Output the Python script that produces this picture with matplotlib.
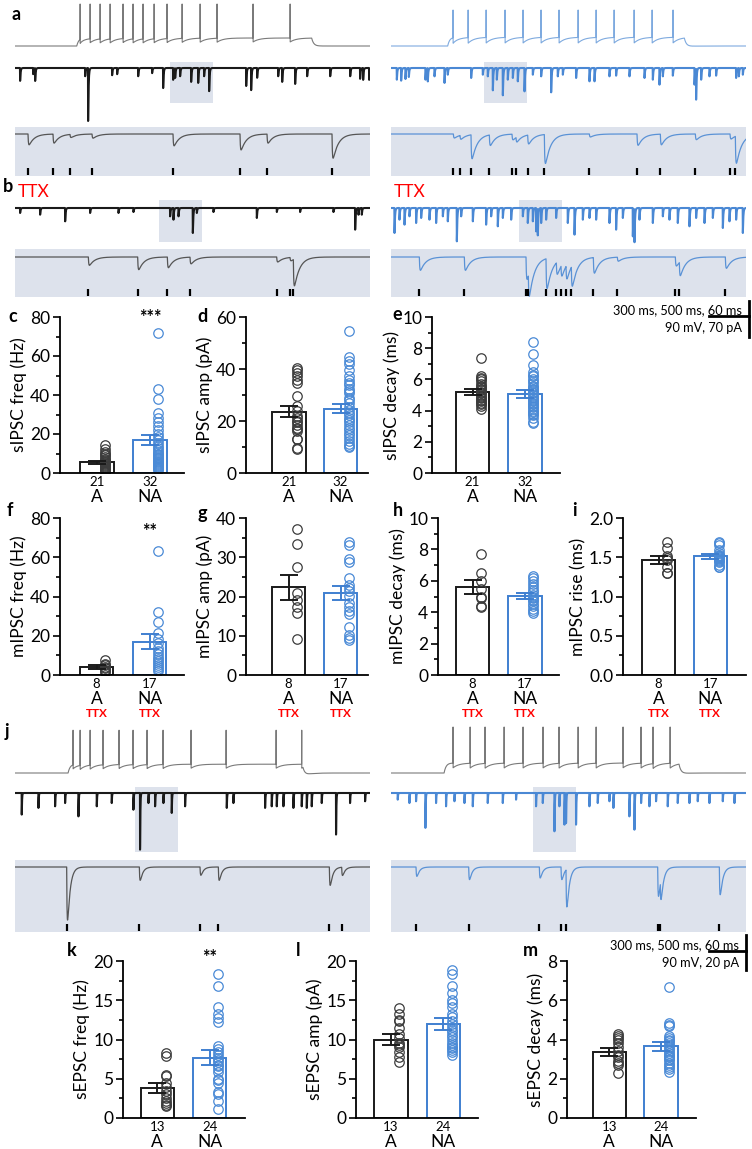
import numpy as np
import matplotlib.pyplot as plt
from matplotlib.lines import Line2D
from matplotlib.patches import Rectangle

W, H = 752, 1149
plt.rcParams['font.family'] = ['Lato', 'DejaVu Sans']

BLACK = '#1a1a1a'
BLUE = '#3f7fd0'
SHADE = '#dde2ec'

# ---------------- bar chart data ----------------
# c  sIPSC frequency (Hz)
sfreq_mean = [5.5, 16.8]
sfreq_sem = [0.8, 2.5]
sfreq_A = [14.2, 12.5, 11, 10, 9, 8, 7.2, 6.5, 6, 5.5, 5, 4.5, 4, 3.5, 3, 2.5, 2, 1.5, 1.2, 0.8, 0.5]
sfreq_NA = [72, 43, 38, 31, 28, 26, 24, 22, 20, 18.5, 17, 15.5, 14, 13, 12, 11, 10, 9.5, 9, 8,
            7.5, 7, 6, 5.5, 5, 4.5, 4, 3.5, 3, 2.5, 2, 1.5]
# d  sIPSC amplitude (pA)
samp_mean = [23.5, 24.8]
samp_sem = [2.1, 1.9]
samp_A = [40.5, 39.5, 38.5, 37.5, 35.8, 34.8, 29.8, 25.7, 24, 22, 21, 20, 19.5, 18.5, 17.5,
          16.9, 16, 13.2, 13, 9.5, 9.3]
samp_NA = [54.5, 44.8, 43.2, 42, 39.7, 37.5, 35.8, 34.5, 33.8, 32.5, 31.5, 30.6, 29, 28, 27,
           25.4, 24.2, 23, 22.2, 21, 20.3, 19.5, 18.3, 17.5, 16.4, 15.5, 14.5, 13.3, 12.5, 11.2,
           10.3, 9.9]
# e  sIPSC decay (ms)
sdec_mean = [5.2, 5.05]
sdec_sem = [0.2, 0.25]
sdec_A = [7.4, 6.2, 6.1, 6.0, 5.9, 5.7, 5.6, 5.5, 5.4, 5.3, 5.2, 5.1, 5.0, 4.9, 4.8, 4.7, 4.6,
          4.5, 4.4, 4.3, 4.1]
sdec_NA = [8.4, 7.6, 6.9, 6.5, 6.3, 6.2, 6.0, 5.9, 5.8, 5.6, 5.5, 5.4, 5.3, 5.2, 5.1, 5.0, 4.9,
           4.8, 4.7, 4.6, 4.5, 4.4, 4.3, 4.2, 4.1, 4.0, 3.9, 3.8, 3.7, 3.5, 3.3, 3.2]
# f  mIPSC frequency (Hz)
mfreq_mean = [4.2, 17.0]
mfreq_sem = [1.0, 3.7]
mfreq_A = [7.8, 5.8, 5, 4.2, 3.5, 2.8, 2, 1.5]
mfreq_NA = [63, 32.3, 27, 21.5, 18.5, 16.5, 14, 12, 10.5, 9, 8, 7, 6, 5, 4, 3, 2]
# g  mIPSC amplitude (pA)
mamp_mean = [22.3, 20.9]
mamp_sem = [3.3, 1.8]
mamp_A = [37.2, 33.3, 27.5, 21, 19, 17.4, 15.7, 9.2]
mamp_NA = [33.8, 33.2, 29.6, 28.8, 24.8, 22.9, 22.2, 21.5, 20.2, 18.3, 17.4, 16.2, 15.5, 12.3,
           10.2, 9.5, 8.9]
# h  mIPSC decay (ms)
mdec_mean = [5.6, 5.02]
mdec_sem = [0.42, 0.18]
mdec_A = [7.7, 6.5, 6.0, 5.5, 5.0, 4.9, 4.4, 4.35]
mdec_NA = [6.3, 6.2, 6.0, 5.8, 5.6, 5.4, 5.3, 5.1, 5.0, 4.9, 4.8, 4.7, 4.5, 4.4, 4.2, 4.05, 3.95]
# i  mIPSC rise (ms)
mrise_mean = [1.47, 1.51]
mrise_sem = [0.05, 0.03]
mrise_A = [1.70, 1.62, 1.52, 1.49, 1.46, 1.38, 1.30, 1.30]
mrise_NA = [1.70, 1.68, 1.66, 1.59, 1.56, 1.53, 1.52, 1.51, 1.50, 1.49, 1.48, 1.47, 1.45, 1.44,
            1.40, 1.38, 1.37]
# k  sEPSC frequency (Hz)
efreq_mean = [3.8, 7.7]
efreq_sem = [0.65, 0.9]
efreq_A = [8.3, 7.9, 5.5, 5.3, 4.4, 4.0, 3.5, 3.1, 2.5, 2.2, 1.9, 1.7, 1.5]
efreq_NA = [18.4, 16.8, 14.2, 13.3, 12.7, 12.2, 9.2, 8.8, 8.4, 8.0, 7.7, 7.4, 7.1, 6.8, 6.6, 6.2,
            5.8, 5.0, 4.8, 4.4, 3.3, 3.0, 2.2, 1.1]
# l  sEPSC amplitude (pA)
eamp_mean = [10.0, 12.0]
eamp_sem = [0.65, 0.75]
eamp_A = [14.0, 13.2, 12.5, 12.4, 11.5, 10.7, 10.2, 9.6, 9.3, 9.0, 8.4, 7.8, 7.1]
eamp_NA = [18.8, 18.4, 16.8, 15.9, 15.0, 14.6, 14.1, 13.3, 12.9, 12.4, 12.0, 11.6, 11.2, 10.9,
           10.6, 10.3, 9.9, 9.6, 9.3, 9.0, 8.9, 8.6, 8.4, 8.0]
# m  sEPSC decay (ms)
edec_mean = [3.35, 3.65]
edec_sem = [0.2, 0.22]
edec_A = [4.3, 4.2, 4.1, 4.0, 3.8, 3.6, 3.4, 3.2, 3.1, 2.9, 2.8, 2.7, 2.3]
edec_NA = [6.7, 4.85, 4.75, 4.7, 4.2, 4.1, 4.0, 3.9, 3.8, 3.7, 3.6, 3.5, 3.4, 3.3, 3.2, 3.15, 3.1,
           3.0, 2.95, 2.8, 2.7, 2.6, 2.5, 2.35]

counts_s = ['21', '32']
counts_m = ['8', '17']
counts_e = ['13', '24']
group_names = ['A', 'NA']

# ---------------- trace data (event times ms, amplitudes pA / mV) ----------------
# current-clamp firing (ms)
a_spk_L = [488, 563, 638, 713, 810, 885, 960, 1043, 1140, 1253, 1388, 1515, 1785, 2063]
a_spk_R = [465, 578, 713, 855, 990, 1125, 1260, 1403, 1538, 1673, 1823, 1958, 2115]
j_spk_L = [435, 488, 563, 660, 780, 885, 990, 1110, 1320, 1583, 1958, 2150]
j_spk_R = [465, 593, 705, 848, 990, 1140, 1260, 1403, 1538, 1740, 1875, 1965, 2093]

# a: sIPSCs, overview (4.4 s)
a_ov_L_t = [62, 225, 250, 875, 912, 1212, 1275, 1538, 1712, 1850, 1975, 2000, 2062, 2200, 2288,
            2362, 2425, 2888, 2950, 3025, 3288, 3338, 3500, 3650, 3938, 4188, 4312, 4350, 4425]
a_ov_L_a = [25, 12, 25, 16, 103, 14, 12, 16, 10, 39, 23, 19, 16, 27, 29, 16, 45, 35, 43, 19, 16,
            27, 31, 16, 16, 16, 21, 23, 23]
a_ov_R_t = [71, 125, 179, 221, 429, 458, 542, 667, 708, 1000, 1146, 1208, 1271, 1321, 1396, 1458,
            1521, 1583, 1667, 1771, 1875, 2000, 2083, 2146, 2312, 2479, 2542, 2729, 2812, 2979,
            3167, 3271, 3354, 3396, 3521, 3792, 3812, 3875, 3979, 4062, 4312, 4346, 4396]
a_ov_R_a = [22.7, 24.6, 21.4, 17.5, 22.7, 25.9, 16.2, 29, 13, 19.4, 13, 16.2, 43.4, 22.7, 53.1,
            22.7, 19.4, 25.9, 45.4, 13, 16.2, 47.3, 16.2, 13, 19.4, 25.9, 25.9, 16.2, 14.9, 16.2,
            19.4, 22.7, 32.4, 16.2, 14.9, 32.4, 60.3, 22.7, 16.2, 14.9, 19.4, 16.2, 13]
a_win = [1937, 1162]          # start of expanded window in overview (ms)
# a: expanded (0.53 s)
a_ex_L_t = [19.5, 57, 82.5, 115.5, 237, 337.5, 378, 475.5]
a_ex_L_a = [21, 17.5, 6, 8, 23, 31, 17.5, 47]
a_ex_R_t = [93.5, 103.5, 120, 147.5, 181.5, 187.5, 205, 230, 297.5, 369, 404, 456.5, 508.5, 516.5]
a_ex_R_a = [7.8, 7.8, 46.7, 20.7, 11, 9.7, 17.5, 56.4, 5.8, 22, 20.7, 11, 9.7, 53]

# b: mIPSCs in TTX
b_ov_L_t = [62, 312, 625, 937, 1292, 1479, 1937, 1979, 2042, 2221, 2271, 2479, 3021, 3271, 3562,
            3979, 4250, 4292, 4333]
b_ov_L_a = [9.7, 13, 25.9, 9.7, 9.7, 7.8, 16.2, 22.7, 16.2, 48.6, 9.7, 7.8, 19.4, 7.8, 7.8, 7.8,
            42.1, 13, 13]
b_ov_R_t = [42, 104, 167, 229, 312, 375, 479, 562, 646, 708, 821, 875, 1021, 1187, 1250, 1333,
            1396, 1500, 1646, 1708, 1771, 1812, 1833, 1875, 1937, 2062, 2208, 2292, 2396, 2479,
            2562, 2729, 2812, 2896, 3021, 3042, 3104, 3271, 3396, 3479, 3583, 3729, 3812, 3917,
            4021, 4146, 4229, 4312, 4396]
b_ov_R_a = [48.6, 22.7, 32.4, 16.2, 29.2, 19.4, 22.7, 29.2, 16.2, 25.9, 64.8, 16.2, 25.9, 32.4,
            16.2, 35.6, 19.4, 22.7, 16.2, 29.2, 25.9, 45.4, 51.8, 29.2, 22.7, 19.4, 29.2, 51.8,
            22.7, 19.4, 22.7, 29.2, 42.1, 19.4, 55.1, 64.8, 22.7, 29.2, 16.2, 22.7, 29.2, 35.6,
            19.4, 29.2, 19.4, 38.9, 25.9, 22.7, 48.6]
b_win = [1800, 1600]
b_ex_L_t = [110, 184, 228.5, 262.5, 392.5, 412.5, 417.5]
b_ex_L_a = [16.2, 24.6, 20.7, 13, 9.7, 6.5, 51.8]
b_ex_R_t = [42.5, 110, 202.5, 206, 232.5, 248, 255, 262.5, 270.5, 303.5, 339.5, 426.5, 432.5, 501.5]
b_ex_R_a = [25.9, 25.9, 43.4, 45.4, 58.3, 24, 22, 27.2, 40.2, 30.5, 7.8, 17.5, 27.2, 22]

# j: sEPSCs
j_ov_L_t = [83, 292, 500, 625, 792, 1021, 1208, 1479, 1562, 1667, 1750, 1854, 1958, 2125, 2646,
            2729, 3125, 3208, 3271, 3354, 3479, 3583, 3646, 3708, 3833, 4012, 4187, 4375]
j_ov_L_a = [12, 8.3, 7.4, 5.6, 13, 7.4, 5.6, 9.3, 31.5, 5.6, 7.4, 5.6, 11.1, 7.4, 8.3, 5.6, 8.3,
            7.4, 7.4, 7.4, 8.3, 7.4, 8.3, 7.4, 5.6, 23.1, 5.6, 4.6]
j_ov_R_t = [83, 229, 312, 429, 562, 687, 792, 917, 1021, 1208, 1396, 1562, 1812, 1896, 2042, 2104,
            2167, 2187, 2312, 2479, 2583, 2729, 2779, 2979, 3042, 3125, 3229, 3312, 3458, 3583,
            3729, 3833, 3979, 4146, 4292]
j_ov_R_a = [3.7, 5.6, 4.6, 19.4, 5.6, 7.4, 4.6, 5.6, 7.4, 5.6, 5.6, 3.7, 7.4, 5.6, 21.3, 7.4,
            17.6, 16.7, 17.6, 7.4, 5.6, 4.6, 8.3, 13, 20.4, 5.6, 7.4, 4.6, 7.4, 5.6, 5.6, 4.6,
            5.6, 4.6, 5.6]
j_win = [1500, 1775]
j_ex_L_t = [77.5, 186.5, 277.5, 305, 471.5, 490]
j_ex_L_a = [29.5, 7.4, 4.6, 7.4, 10.2, 4.6]
j_ex_R_t = [37.5, 116.5, 222.5, 255, 262.5, 400, 404, 492.5]
j_ex_R_a = [5.2, 7, 6.1, 7, 20.9, 16.3, 10.7, 15.4]

fig = plt.figure(figsize=(W / 100, H / 100), dpi=100)


def px_axes(x0, y0, x1, y1):
    return fig.add_axes([x0 / W, 1 - y1 / H, (x1 - x0) / W, (y1 - y0) / H])


def trace_axes(box, base, ms_px, unit_px, shaded=False):
    x0, y0, x1, y1 = box
    ax = px_axes(x0, y0, x1, y1)
    ax.set_xlim(0, (x1 - x0) * ms_px)
    ax.set_ylim(-(y1 - base) * unit_px, (base - y0) * unit_px)
    ax.set_xticks([])
    ax.set_yticks([])
    for s in ax.spines.values():
        s.set_visible(False)
    ax.set_facecolor(SHADE if shaded else 'none')
    return ax


def psc(t, times, amps, tau_r, tau_d):
    y = np.zeros_like(t)
    for t0, a in zip(times, amps):
        dt = t[t > t0] - t0
        k = np.exp(-dt / tau_d) - np.exp(-dt / tau_r)
        y[t > t0] -= a * k / k.max()
    return y


def firing(t, on, off, plateau, spikes, ahp, peak):
    v = np.zeros_like(t)
    m = (t >= on) & (t < off)
    v[m] = plateau * (1 - np.exp(-(t[m] - on) / 15))
    v[t >= off] = plateau * np.exp(-(t[t >= off] - off) / 15)
    for ts in spikes:
        dt = t[t > ts] - ts
        v[t > ts] -= ahp * np.exp(-dt / 45)
    for ts in spikes:
        i = np.searchsorted(t, ts)
        v[i:i + 2] = peak
    return v


def draw_spikes(box, base, spikes, on, off, plateau, ahp, peak, color):
    ax = trace_axes(box, base, 7.5, 2.5)
    t = np.arange(0, ax.get_xlim()[1], 0.5)
    ax.plot(t, firing(t, on, off, plateau, spikes, ahp, peak), color=color, lw=0.8)


def draw_overview(box, base, upp, times, amps, tau, color, win, win_y):
    ax = trace_axes(box, base, 12.5, upp)
    ax.add_patch(Rectangle((win, win_y[0]), 532, win_y[1] - win_y[0],
                           facecolor=SHADE, edgecolor='none', zorder=0))
    t = np.arange(0, ax.get_xlim()[1], 1.0)
    ax.plot(t, psc(t, times, amps, 0.6, tau), color=color, lw=1.5, zorder=2)


def draw_expanded(box, base, upp, times, amps, tau, color):
    ax = trace_axes(box, base, 1.5, upp, shaded=True)
    t = np.arange(0, ax.get_xlim()[1], 0.25)
    ax.plot(t, psc(t, times, amps, 0.6, tau), color=color, lw=0.9)
    y0 = ax.get_ylim()[0]
    ax.vlines(times, y0 + 1.0 * upp, y0 + 8 * upp, color='black', lw=1.6)


GRAY = '#7a7a7a'
TR_BLUE = '#4a88d4'
# ---- a ----
draw_spikes((15, 0, 370, 50), 46, a_spk_L, 463, 2225, 20, 10, 105, GRAY)
draw_spikes((391, 0, 746, 50), 46, a_spk_R, 425, 2200, 22, 14, 90, '#7eaadf')
draw_overview((15, 55, 370, 125), 68, 1.944, a_ov_L_t, a_ov_L_a, 6, BLACK, a_win[0], (-68, 11.7))
draw_overview((391, 55, 746, 125), 68, 1.944, a_ov_R_t, a_ov_R_a, 6, TR_BLUE, a_win[1], (-68, 11.7))
draw_expanded((15, 127, 370, 176), 134, 1.944, a_ex_L_t, a_ex_L_a, 8, '#555555')
draw_expanded((391, 127, 746, 176), 134, 1.944, a_ex_R_t, a_ex_R_a, 8, '#5a92d6')
# ---- b ----
draw_overview((15, 195, 370, 245), 208, 1.944, b_ov_L_t, b_ov_L_a, 6, BLACK, b_win[0], (-66, 15.6))
draw_overview((391, 195, 746, 245), 208, 1.944, b_ov_R_t, b_ov_R_a, 6, TR_BLUE, b_win[1], (-66, 15.6))
draw_expanded((15, 249, 370, 297), 257, 1.944, b_ex_L_t, b_ex_L_a, 8, '#555555')
draw_expanded((391, 249, 746, 297), 257, 1.944, b_ex_R_t, b_ex_R_a, 8, '#5a92d6')
# ---- j ----
draw_spikes((15, 725, 370, 778), 773, j_spk_L, 398, 2160, 22, 10, 107, GRAY)
draw_spikes((391, 725, 746, 778), 773, j_spk_R, 398, 2160, 25, 12, 115, GRAY)
draw_overview((15, 780, 370, 855), 793, 0.556, j_ov_L_t, j_ov_L_a, 3.4, BLACK, j_win[0], (-32.8, 3.3))
draw_overview((391, 780, 746, 855), 793, 0.556, j_ov_R_t, j_ov_R_a, 3.4, TR_BLUE, j_win[1], (-32.8, 3.3))
draw_expanded((15, 860, 370, 932), 867, 0.556, j_ex_L_t, j_ex_L_a, 4, '#555555')
draw_expanded((391, 860, 746, 932), 867, 0.556, j_ex_R_t, j_ex_R_a, 4, '#5a92d6')


# ---------------- bar panels ----------------
def bar_panel(lay, ylim, major, minor, ylabel, means, sems, pts, counts, ttx=False,
              star=None, fmt='{:.0f}'):
    spine, end, top, bot, ca, cn = lay
    ax = px_axes(spine, top, end, bot)
    unit = cn - ca
    ax.set_xlim(1 - (ca - spine) / unit, 2 + (end - cn) / unit)
    ax.set_ylim(*ylim)
    w = 33.5 / unit
    for i, col in enumerate([BLACK, BLUE]):
        x = i + 1
        ax.bar(x, means[i], width=w, facecolor='white', edgecolor=col, lw=1.4, zorder=1)
        ax.plot(np.full(len(pts[i]), x + 0.16), pts[i], 'o', mfc='none',
                mec='#3c3c3c' if i == 0 else '#4a8ad6', ms=6.8, mew=0.9, zorder=2)
        ax.errorbar(x, means[i], yerr=sems[i], color=col, capsize=6.5, lw=1.4,
                    capthick=1.4, zorder=3)
        ax.annotate(counts[i], (x, 0), xytext=(0, -6.5), textcoords='offset points',
                    ha='center', va='center', fontsize=9.5, annotation_clip=False)
        ax.annotate(group_names[i], (x, 0), xytext=(0, -17.5), textcoords='offset points',
                    ha='center', va='center', fontsize=12.5, annotation_clip=False)
        if ttx:
            ax.annotate('TTX', (x, 0), xytext=(0, -27.5), textcoords='offset points',
                        ha='center', va='center', fontsize=8.5, color='red',
                        fontweight='bold', annotation_clip=False)
    if star:
        ax.text(2, star[1], star[0], ha='center', va='center', fontsize=13, fontweight='bold')
    ax.set_yticks(np.arange(ylim[0], ylim[1] + major / 2, major))
    ax.set_yticks(np.arange(ylim[0], ylim[1] + minor / 2, minor), minor=True)
    ax.set_yticklabels([fmt.format(v) for v in ax.get_yticks()])
    ax.tick_params(axis='y', which='major', length=5, width=1.2, labelsize=12.5, pad=2)
    ax.tick_params(axis='y', which='minor', length=3, width=1.2)
    ax.tick_params(axis='x', bottom=False, labelbottom=False)
    for s in ['top', 'right']:
        ax.spines[s].set_visible(False)
    for s in ['left', 'bottom']:
        ax.spines[s].set_linewidth(1.3)
    ax.set_ylabel(ylabel, fontsize=12.5, labelpad=2)
    return ax


bar_panel((60, 184, 317, 473, 97, 150), (0, 80), 20, 10, 'sIPSC freq (Hz)',
          sfreq_mean, sfreq_sem, [sfreq_A, sfreq_NA], counts_s, star=('***', 80))
bar_panel((246, 368, 317, 473, 289, 340.5), (0, 60), 20, 10, 'sIPSC amp (pA)',
          samp_mean, samp_sem, [samp_A, samp_NA], counts_s)
bar_panel((432, 560, 317, 473, 472.5, 525), (0, 10), 2, 1, 'sIPSC decay (ms)',
          sdec_mean, sdec_sem, [sdec_A, sdec_NA], counts_s)
bar_panel((60, 184, 518, 675, 96.5, 149.5), (0, 80), 20, 10, 'mIPSC freq (Hz)',
          mfreq_mean, mfreq_sem, [mfreq_A, mfreq_NA], counts_m, ttx=True, star=('**', 73))
bar_panel((246, 368, 518, 675, 288.5, 340.5), (0, 40), 10, 5, 'mIPSC amp (pA)',
          mamp_mean, mamp_sem, [mamp_A, mamp_NA], counts_m, ttx=True)
bar_panel((438, 559, 518, 675, 472.5, 525), (0, 10), 2, 1, 'mIPSC decay (ms)',
          mdec_mean, mdec_sem, [mdec_A, mdec_NA], counts_m, ttx=True)
bar_panel((623, 746, 518, 675, 658.5, 710.3), (0, 2), 0.5, 0.25, 'mIPSC rise (ms)',
          mrise_mean, mrise_sem, [mrise_A, mrise_NA], counts_m, ttx=True, fmt='{:.1f}')
bar_panel((123, 245, 961, 1118, 157.3, 209.7), (0, 20), 5, 2.5, 'sEPSC freq (Hz)',
          efreq_mean, efreq_sem, [efreq_A, efreq_NA], counts_e, star=('**', 20.5))
bar_panel((356, 478, 961, 1118, 391, 443.3), (0, 20), 5, 2.5, 'sEPSC amp (pA)',
          eamp_mean, eamp_sem, [eamp_A, eamp_NA], counts_e)
bar_panel((567, 696, 961, 1118, 609.3, 661), (0, 8), 2, 1, 'sEPSC decay (ms)',
          edec_mean, edec_sem, [edec_A, edec_NA], counts_e)


# ---------------- labels, TTX tags, scale bars ----------------
def ftext(x, y, s, **kw):
    fig.text(x / W, 1 - y / H, s, **kw)


for lab, x, y in [('a', 12, 14), ('b', 3, 186), ('c', 8, 316), ('d', 197, 316),
                  ('e', 392, 315), ('f', 7, 510), ('g', 197, 513), ('h', 393, 510),
                  ('i', 572, 510), ('j', 5, 732), ('k', 67, 951), ('l', 296, 951),
                  ('m', 523, 951)]:
    ftext(x, y, lab, fontsize=13, fontweight='bold', ha='left', va='center')
ftext(18, 192, 'TTX', fontsize=12.5, color='red', ha='left', va='center')
ftext(394, 192, 'TTX', fontsize=12.5, color='red', ha='left', va='center')


def scale_bar(xr, ytop, ymid, ybot, xleft, line1, line2):
    fig.add_artist(Line2D([xr / W] * 2, [1 - ytop / H, 1 - ybot / H], color='black', lw=2))
    fig.add_artist(Line2D([xleft / W, xr / W], [1 - ymid / H] * 2, color='black', lw=2))
    ftext(xr - 7, ymid - 5.5, line1, fontsize=9.2, ha='right', va='center')
    ftext(xr - 7, ymid + 12, line2, fontsize=9.2, ha='right', va='center')


scale_bar(749, 301, 316, 337, 709, '300 ms, 500 ms, 60 ms', '90 mV, 70 pA')
scale_bar(746, 935, 951, 970, 709, '300 ms, 500 ms, 60 ms', '90 mV, 20 pA')

fig.savefig('out.png', dpi=100)
